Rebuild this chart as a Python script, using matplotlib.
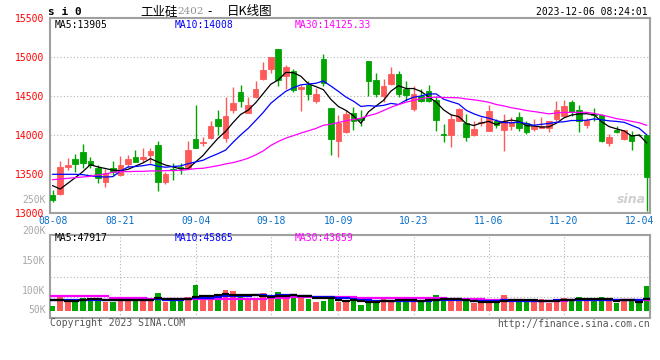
import matplotlib
matplotlib.use("Agg")
import matplotlib.pyplot as plt
import numpy as np
import pandas as pd

# trading days 2023-08-08 .. 2023-12-05 (national day holiday removed)
holidays = ["2023-09-29", "2023-10-02", "2023-10-03", "2023-10-04", "2023-10-05", "2023-10-06"]
days = pd.bdate_range("2023-08-08", "2023-12-05")
days = days[~days.isin(pd.to_datetime(holidays))]
date_labels = ["08-08", "08-21", "09-04", "09-18", "10-09", "10-23", "11-06", "11-20", "12-04"]

opens = [13235, 13247, 13594, 13697, 13787, 13671, 13586, 13406, 13577, 13491,
         13637, 13723, 13697, 13749, 13877, 13406, 13570, 13598, 13577, 13954,
         13903, 13971, 14211, 13963, 14319, 14559, 14280, 14494, 14726, 14850,
         15111, 14756, 14829, 14597, 14649, 14443, 14983, 14353, 13933, 14036,
         14284, 14220, 14957, 14713, 14499, 14661, 14790, 14597, 14340, 14499,
         14563, 14456, 14019, 14006, 14186, 14164, 14006, 14160, 14061, 14186,
         14070, 14113, 14241, 14164, 14083, 14100, 14100, 14203, 14250, 14426,
         14327, 14126, 14271, 14263, 13907, 14070, 13950, 14006, 14010, 14006]
closes = [13170, 13594, 13620, 13633, 13650, 13620, 13449, 13521, 13526, 13620,
          13697, 13663, 13723, 13800, 13406, 13500, 13550, 13585, 13813, 13843,
          13920, 14117, 14121, 14250, 14417, 14434, 14391, 14597, 14841, 15009,
          14713, 14871, 14580, 14614, 14524, 14533, 14674, 13954, 14160, 14276,
          14186, 14194, 14691, 14533, 14636, 14786, 14533, 14511, 14533, 14443,
          14443, 14199, 14010, 14211, 14340, 13984, 14083, 14170, 14314, 14134,
          14186, 14169, 14091, 14036, 14117, 14113, 14186, 14327, 14378, 14293,
          14186, 14199, 14263, 13933, 13976, 14040, 14070, 13933, 14000, 13470]
highs = [13300, 13676, 13706, 13757, 13890, 13727, 13620, 13568, 13671, 13740,
         13748, 13813, 13843, 13843, 13928, 13534, 13640, 13650, 13928, 14391,
         13984, 14186, 14327, 14486, 14614, 14649, 14486, 14700, 14936, 15009,
         15111, 14906, 14854, 14649, 14691, 14606, 15047, 14353, 14263, 14327,
         14357, 14327, 14957, 14799, 14726, 14871, 14820, 14700, 14627, 14597,
         14649, 14499, 14143, 14271, 14345, 14271, 14186, 14241, 14391, 14211,
         14271, 14241, 14293, 14177, 14211, 14241, 14186, 14443, 14456, 14456,
         14391, 14220, 14349, 14271, 14014, 14121, 14070, 14049, 14015, 14006]
lows = [13150, 13230, 13551, 13534, 13586, 13577, 13384, 13341, 13491, 13483,
        13598, 13654, 13663, 13641, 13286, 13371, 13430, 13500, 13568, 13834,
        13868, 13954, 14006, 13920, 14280, 14357, 14280, 14477, 14713, 14794,
        14636, 14597, 14550, 14306, 14456, 14417, 14627, 13748, 13727, 14027,
        14070, 14113, 14499, 14486, 14426, 14640, 14486, 14443, 14314, 14426,
        14426, 14049, 13920, 13856, 14180, 13928, 13997, 14113, 14049, 14100,
        13799, 14070, 14061, 14014, 14061, 14091, 14040, 14186, 14241, 14250,
        14036, 14091, 14186, 13920, 13864, 14027, 13941, 13813, 13995, 13028]

# moving averages before enough history
ma5_head = [13354, 13311, 13384, 13457]
ma10_head = [13500, 13500, 13500, 13500, 13495, 13480, 13470, 13465, 13470]
ma30_head = [13431, 13440, 13448, 13457, 13466, 13474, 13491, 13504, 13526, 13534,
             13534, 13538, 13538, 13543, 13543, 13547, 13547, 13551, 13560, 13573,
             13577, 13594, 13611, 13633, 13650, 13676, 13706, 13749, 13800]

volumes = [19200, 57700, 43600, 46200, 50000, 38500, 46200, 35900, 35900, 46200,
           42300, 42300, 50000, 37200, 69300, 34600, 43600, 37200, 53900, 100100,
           47500, 41100, 57700, 80800, 77000, 52600, 43600, 51300, 69300, 52600,
           73100, 51300, 56500, 62900, 47500, 34600, 39800, 57700, 34600, 34600,
           41100, 24400, 38500, 38500, 44900, 38500, 50000, 37200, 37200, 34600,
           43600, 61600, 44900, 37200, 37200, 37200, 32100, 37200, 37200, 33400,
           61600, 34600, 46200, 34600, 34600, 46200, 30800, 46200, 50000, 46200,
           53900, 38500, 38500, 53900, 38500, 30800, 42300, 38500, 30800, 96200]
vma5_head = [43600, 41000, 38500, 38500]
vma10_head = [41000, 41000, 41000, 41000, 41000, 41000, 41000, 41000, 41000]
vma30_head = [57700, 57700, 57700, 57700, 57700, 57700, 57700, 57700, 51300, 51300,
              51300, 51300, 51300, 47000, 47000, 47000, 47000, 47000, 47000, 47000,
              48000, 48000, 48000, 48000, 48000, 48000, 48000, 48000, 48000]

price_ticks = [13000, 13500, 14000, 14500, 15000, 15500]
vol_labels = ["250K", "200K", "150K", "100K", "50K"]
vol_label_pos = [1.42, 1.048, 0.686, 0.325, 0.096]   # axes fraction, as drawn by sina

UP = "#FF5A5A"
DOWN = "#00A400"
GRID = "#B4B4B4"
FRAME = "#A0A0A0"
MONO = ["DejaVu Sans Mono"]
CJK = ["Noto Sans CJK SC", "DejaVu Sans"]


def moving(values, n, head):
    m = pd.Series(values, dtype=float).rolling(n).mean().to_numpy()
    m[:n - 1] = head
    return m


def style_frame(a):
    for s in a.spines.values():
        s.set_color(FRAME)
        s.set_linewidth(1.5)
    a.tick_params(length=0)


x = np.arange(len(closes))
o = np.array(opens, dtype=float)
c = np.array(closes, dtype=float)
colors = np.where(c >= o, UP, DOWN)
tick_idx = [days.strftime("%m-%d").tolist().index(d) for d in date_labels]

fig = plt.figure(figsize=(6.6, 3.6), dpi=100)
W, H = 660, 360

# ---- price panel
ax = fig.add_axes([50 / W, 1 - 213.3 / H, 600 / W, 195 / H])
ax.set_xlim(-0.36, len(x) - 0.56)
ax.set_ylim(price_ticks[0], price_ticks[-1])
ax.vlines(x, lows, highs, colors=colors, linewidth=1, zorder=3)
ax.bar(x, np.abs(c - o), bottom=np.minimum(o, c), width=0.74, color=colors,
       edgecolor=colors, linewidth=0.6, zorder=4)
ax.plot(x, moving(closes, 5, ma5_head), color="black", lw=0.9, zorder=5)
ax.plot(x, moving(closes, 10, ma10_head), color="#0000FF", lw=0.9, zorder=5)
ax.plot(x, moving(closes, 30, ma30_head), color="#FF00FF", lw=0.9, zorder=5)

ax.set_yticks(price_ticks)
ax.set_yticklabels([str(t) for t in price_ticks], color="#FF0000", fontsize=7, family=MONO)
ax.set_xticks(tick_idx)
ax.set_xticklabels(date_labels, color="#0A6EC8", fontsize=7, family=MONO)
ax.set_xticks(tick_idx[1:-1], minor=True)
ax.tick_params(axis="x", which="both", length=0, pad=2)
ax.tick_params(axis="y", length=0, pad=4)
ax.grid(False)
ax.grid(True, axis="x", which="minor", color=GRID, linestyle=(0, (1, 2)), lw=0.8)
ax.grid(True, axis="y", which="major", color=GRID, linestyle=(0, (1, 2)), lw=0.8)
style_frame(ax)

ax.text(0.008, 0.965, "MA5:13905", transform=ax.transAxes, fontsize=7, family=MONO,
        color="black", va="center")
ax.text(0.208, 0.965, "MA10:14008", transform=ax.transAxes, fontsize=7, family=MONO,
        color="#0000FF", va="center")
ax.text(0.408, 0.965, "MA30:14125.33", transform=ax.transAxes, fontsize=7, family=MONO,
        color="#FF00FF", va="center")
ax.text(0.993, 0.07, "sina", transform=ax.transAxes, fontsize=9, style="italic",
        weight="bold", color="#CFCFCF", ha="right", va="center", zorder=2)

# ---- volume panel
vol = np.array(volumes, dtype=float)
av = fig.add_axes([50 / W, 1 - 318 / H, 600 / W, 83 / H])
av.set_xlim(ax.get_xlim())
av.set_ylim(-26950, 292600)
av.bar(x, vol, width=0.74, color=colors, zorder=3)
for n, head, col in [(30, vma30_head, "#FF00FF"), (10, vma10_head, "#0000FF"),
                     (5, vma5_head, "black")]:
    av.hlines(moving(volumes, n, head), x - 0.5, x + 0.5, colors=col, lw=1.6, zorder=4)
y0, y1 = av.get_ylim()
av.set_yticks([y0 + (y1 - y0) * f for f in (0.25, 0.5, 0.75)])
av.set_yticklabels([])
av.set_xticks(tick_idx[1:-1])
av.set_xticklabels([])
av.grid(True, color=GRID, linestyle=(0, (1, 2)), lw=0.8)
style_frame(av)
for lbl, pos in zip(vol_labels, vol_label_pos):
    av.text(-0.007, pos, lbl, transform=av.transAxes, ha="right", va="center",
            fontsize=7, family=MONO, color="#A8A8A8", zorder=1)
av.text(0.008, 0.965, "MA5:47917", transform=av.transAxes, fontsize=7, family=MONO,
        color="black", va="center")
av.text(0.208, 0.965, "MA10:45865", transform=av.transAxes, fontsize=7, family=MONO,
        color="#0000FF", va="center")
av.text(0.408, 0.965, "MA30:43659", transform=av.transAxes, fontsize=7, family=MONO,
        color="#FF00FF", va="center")

# ---- header / footer text
fig.text(48 / W, 1 - 12 / H, "s i 0", fontsize=8, weight="bold", family=MONO, va="center")
fig.text(140 / W, 1 - 12 / H, "工业硅", fontsize=9, family=CJK, va="center")
fig.text(177 / W, 1 - 12 / H, "2402", fontsize=7.5, family=["DejaVu Serif"], color="#909090", va="center")
fig.text(207 / W, 1 - 12 / H, "-", fontsize=9, family=CJK, va="center")
fig.text(227 / W, 1 - 12 / H, "日K线图", fontsize=9, family=CJK, va="center")
fig.text(648 / W, 1 - 12 / H, "2023-12-06 08:24:01", fontsize=7, family=MONO, ha="right", va="center")
fig.text(50 / W, 1 - 323 / H, "Copyright 2023 SINA.COM", fontsize=7, family=MONO,
         color="#555555", va="center")
fig.text(650 / W, 1 - 324 / H, "http://finance.sina.com.cn", fontsize=7, family=MONO,
         color="#555555", ha="right", va="center")

fig.savefig("out.png", dpi=100, facecolor="white")
